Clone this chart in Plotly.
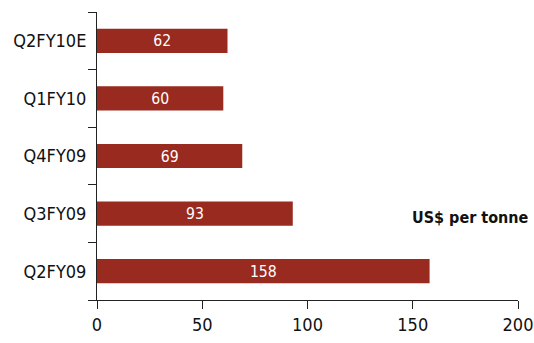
import plotly.graph_objects as go

categories = ["Q2FY09", "Q3FY09", "Q4FY09", "Q1FY10", "Q2FY10E"]
values = [158, 93, 69, 60, 62]
x_ticks = [0, 50, 100, 150, 200]

FONT = "Liberation Sans Narrow, DejaVu Sans Condensed, sans-serif"
BAR = "#982A20"

fig = go.Figure(go.Bar(
    x=values, y=categories, orientation="h",
    marker=dict(color=BAR, line=dict(width=0)),
    text=[str(v) for v in values], textposition="inside",
    insidetextanchor="middle", textangle=0,
    textfont=dict(color="white", size=18, family=FONT),
    width=0.42,
))

fig.update_layout(
    width=534, height=343,
    margin=dict(l=97, r=16, t=12, b=43, autoexpand=False),
    paper_bgcolor="white", plot_bgcolor="white",
    font=dict(family=FONT, size=18, color="#111111"),
    showlegend=False,
    xaxis=dict(range=[0, 200], tickvals=x_ticks, ticks="outside", ticklen=8,
               tickcolor="#222", showline=True, linecolor="#222", linewidth=1,
               showgrid=False, zeroline=False, fixedrange=True, automargin=False),
    yaxis=dict(range=[-0.5, 4.5], type="category", categoryorder="array",
               categoryarray=categories, tickson="boundaries", ticks="outside",
               ticklen=8, tickcolor="#222", showline=True, linecolor="#222",
               linewidth=1, showgrid=False, zeroline=False, automargin=False,
               ticklabelstandoff=6),
    annotations=[dict(text="<b>US$ per tonne</b>", xref="paper", yref="paper",
                      x=1.03, y=0.285, xanchor="right", yanchor="middle",
                      showarrow=False, font=dict(size=16, family=FONT, color="#111"))],
)

# remove the browser's default 8px body margin so the figure fills the window
fig.write_html("out.html",
               config={"displayModeBar": False},
               post_script="document.body.style.margin='0px';document.body.style.overflow='hidden';")
